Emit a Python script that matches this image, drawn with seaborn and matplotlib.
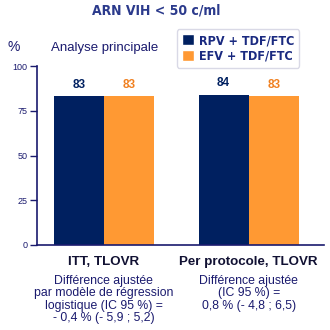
import matplotlib
matplotlib.use("Agg")
import matplotlib.pyplot as plt
import seaborn as sns
import pandas as pd
from matplotlib.patches import Patch
from matplotlib.font_manager import FontProperties

categories = ["ITT, TLOVR", "Per protocole, TLOVR"]
series = ["RPV + TDF/FTC", "EFV + TDF/FTC"]
rpv_values = [83, 84]
efv_values = [83, 83]
notes = ["Différence ajustée\npar modèle de régression\nlogistique (IC 95 %) =\n- 0,4 % (- 5,9 ; 5,2)",
         "Différence ajustée\n(IC 95 %) =\n0,8 % (- 4,8 ; 6,5)"]
yticks = [0, 25, 50, 75, 100]

navy = "#002060"
orange = "#FF9933"
txt = "#1a1a6e"

sns.set_theme(style="white")
plt.rcParams['font.family'] = ['Liberation Sans', 'DejaVu Sans']

df = pd.DataFrame({
    "cat": categories * 2,
    "serie": [series[0]] * 2 + [series[1]] * 2,
    "val": rpv_values + efv_values,
})

fig = plt.figure(figsize=(3.3, 3.3), dpi=100)
ax = fig.add_axes([37/330, 1-245/330, (324-37)/330, (245-66)/330])
sns.barplot(data=df, x="cat", y="val", hue="serie", palette=[navy, orange],
            width=0.69, ax=ax, saturation=1, legend=False, edgecolor="none")
ax.set_xlim(-0.46, 1.52)
ax.set_ylim(0, 100)
ax.set_yticks(yticks)
ax.set_yticklabels([str(t) for t in yticks], fontsize=6.5, color=txt)
ax.tick_params(axis="y", length=5, width=1, color=txt, pad=2, left=True)
ax.tick_params(axis="x", length=0, bottom=False)
ax.set_xticks([])
ax.set_xlabel("")
ax.set_ylabel("")
for s in ["top", "right"]:
    ax.spines[s].set_visible(False)
for s in ["left", "bottom"]:
    ax.spines[s].set_color(txt)
    ax.spines[s].set_linewidth(1.2)

# value labels
for i, cont in enumerate(ax.containers):
    col = navy if i == 0 else "#F08020"
    for bar, v in zip(cont, [rpv_values, efv_values][i]):
        ax.text(bar.get_x() + bar.get_width()/2, v + 3, str(v), ha="center",
                va="bottom", fontsize=8.5, fontweight="bold", color=col)

# category labels and notes
for i, (c, n) in enumerate(zip(categories, notes)):
    ax.text(i, -6, c, ha="center", va="top", fontsize=9.6, fontweight="bold",
            color="#111133", transform=ax.transData, clip_on=False)
    ax.text(i, -16.5, n, ha="center", va="top", fontsize=8.8, color=txt,
            linespacing=1.07, transform=ax.transData, clip_on=False)

title_fp = FontProperties(family="DejaVu Sans", weight="bold", stretch="condensed", size=10)
fig.text(156/330, 1-11/330, "ARN VIH < 50 c/ml", ha="center", va="center",
         fontproperties=title_fp, color="#2b3a8c")
fig.text(14/330, 1-47/330, "%", ha="center", va="center", fontsize=10, color=txt)
fig.text(51/330, 1-48/330, "Analyse principale", ha="left", va="center",
         fontsize=9.5, color=txt)

handles = [Patch(facecolor=navy, label=series[0]), Patch(facecolor=orange, label=series[1])]
leg_fp = FontProperties(family="DejaVu Sans", weight="bold", stretch="condensed", size=9)
leg = fig.legend(handles=handles, loc="upper right", bbox_to_anchor=(299/330, 1-29/330),
                 frameon=True, fancybox=True, handlelength=1.0,
                 handleheight=1.0, handletextpad=0.35, borderpad=0.4, labelspacing=0.2,
                 borderaxespad=0, prop=leg_fp, labelcolor="#1a2a80")
leg.get_frame().set_edgecolor("#d0d0e0")
leg.get_frame().set_linewidth(1)

fig.savefig("out.png", dpi=100)
